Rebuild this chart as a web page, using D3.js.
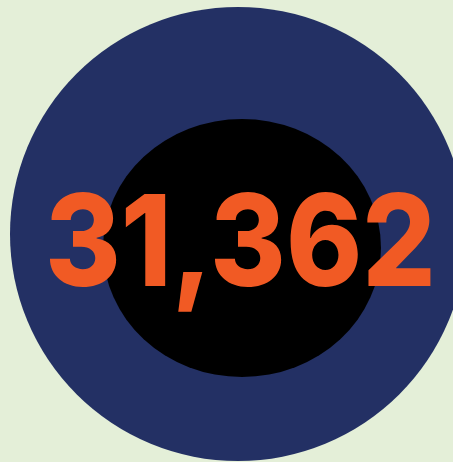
<!DOCTYPE html>
<html><head><meta charset="utf-8">
<script src="https://cdn.jsdelivr.net/npm/d3@7"></script>
<style>html,body{margin:0;padding:0;background:#e4efd8;overflow:hidden}</style>
</head><body>
<script>
const values = [31362];
const W = 453, H = 462;
const svg = d3.select("body").append("svg").attr("width", W).attr("height", H);
svg.append("rect").attr("width", W).attr("height", H).attr("fill", "#e4efd8");
const shapes = [
  {cx: 238, cy: 234, rx: 228, ry: 227, fill: "#233064"},
  {cx: 242, cy: 248, rx: 139, ry: 129, fill: "#000000"}
];
svg.selectAll("ellipse").data(shapes).join("ellipse")
  .attr("cx", d => d.cx).attr("cy", d => d.cy)
  .attr("rx", d => d.rx).attr("ry", d => d.ry).attr("fill", d => d.fill);
const targetLeft = 45, targetWidth = 391, baseY = 286;
const g = svg.append("g");
const t = g.selectAll("text.v").data(values).join("text").attr("class", "v")
  .attr("x", 0).attr("y", 0)
  .attr("font-family", "Inter, 'DejaVu Sans', sans-serif")
  .attr("font-weight", 800).attr("font-size", 127)
  .attr("fill", "#f15a24")
  .text(d => d3.format(",")(d));
const bb = t.node().getBBox();
const sx = targetWidth / bb.width;
g.attr("transform", `translate(${targetLeft - bb.x * sx},${baseY}) scale(${sx},1)`);
</script>
</body></html>
